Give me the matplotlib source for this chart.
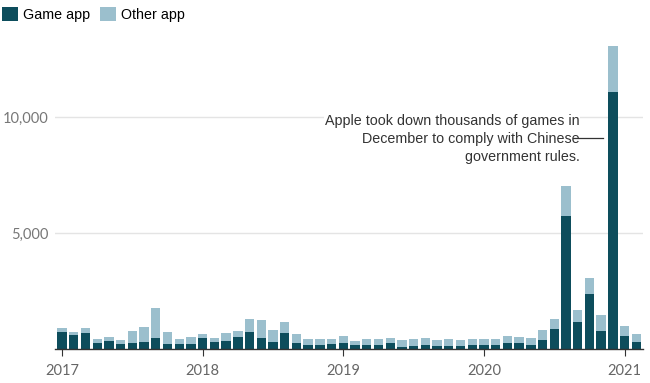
import matplotlib
matplotlib.use("Agg")
import matplotlib.pyplot as plt
from matplotlib.patches import Patch
import numpy as np

months = [f"{y}-{m:02d}" for y in range(2017, 2022) for m in range(1, 13)][:50]
game = [750, 600, 680, 270, 345, 230, 270, 315, 460, 200, 200, 200,
        460, 315, 345, 530, 720, 490, 315, 675, 275, 160, 160, 230,
        275, 160, 160, 160, 250, 100, 130, 160, 130, 130, 130, 160,
        160, 160, 245, 245, 160, 375, 860, 5750, 1150, 2370, 790, 11090,
        575, 315]
other = [140, 150, 210, 175, 170, 145, 505, 650, 1320, 520, 245, 330,
         185, 175, 330, 245, 575, 760, 505, 505, 355, 285, 285, 215,
         285, 185, 255, 285, 240, 275, 315, 330, 245, 285, 245, 255,
         255, 255, 315, 270, 330, 445, 435, 1275, 530, 700, 675, 1980,
         430, 330]
year_labels = ["2017", "2018", "2019", "2020", "2021"]
ytick_vals = [5000, 10000]
ytick_labels = ["5,000", "10,000"]

DARK = "#0d4d5c"
LIGHT = "#9bbfcd"

fig = plt.figure(figsize=(6.5, 3.83), dpi=100)
ax = fig.add_axes([55/650, 34/383, (643-55)/650, (349-36)/383])

x = np.arange(len(months))
ax.bar(x, game, width=0.8, color=DARK, zorder=3)
ax.bar(x, other, width=0.8, bottom=game, color=LIGHT, zorder=3)

ax.set_xlim(-0.6, 49.57)
ax.set_ylim(0, 13500)

for s in ["top", "right", "left"]:
    ax.spines[s].set_visible(False)
ax.spines["bottom"].set_color("#333333")
ax.spines["bottom"].set_linewidth(1.0)
ax.spines["bottom"].set_zorder(4)

ax.set_xticks([0, 12, 24, 36, 48])
ax.set_xticklabels(year_labels, family="Lato", fontsize=10.5, color="#666666")
ax.tick_params(axis="x", length=5, width=0.8, color="#333333", pad=6)

ax.set_yticks(ytick_vals)
ax.set_yticklabels(ytick_labels, family="Lato", fontsize=10.5, color="#777777")
ax.tick_params(axis="y", length=0, pad=5)
ax.grid(axis="y", color="#e4e4e4", linewidth=1, zorder=0)

ann = ("Apple took down thousands of games in\n"
       "December to comply with Chinese\n"
       "government rules.")
ax.text(44.15, 10150, ann, ha="right", va="top", family="Liberation Sans",
        fontsize=10.3, color="#333333", linespacing=1.4, zorder=5,
        bbox=dict(facecolor="white", edgecolor="none", pad=0.5))
ax.plot([43.6, 46.15], [9100, 9100], color="#333333", lw=0.9, zorder=6)

handles = [Patch(facecolor=DARK, edgecolor="none", label="Game app"),
           Patch(facecolor=LIGHT, edgecolor="none", label="Other app")]
fig.legend(handles=handles, loc="upper left", bbox_to_anchor=(-0.016, 1.015),
           ncol=2, frameon=False, handlelength=1.1, handleheight=1.1,
           handletextpad=0.35, columnspacing=0.7,
           prop={"family": "Liberation Sans", "size": 10.3})

fig.savefig("out.png", dpi=100, facecolor="white")
